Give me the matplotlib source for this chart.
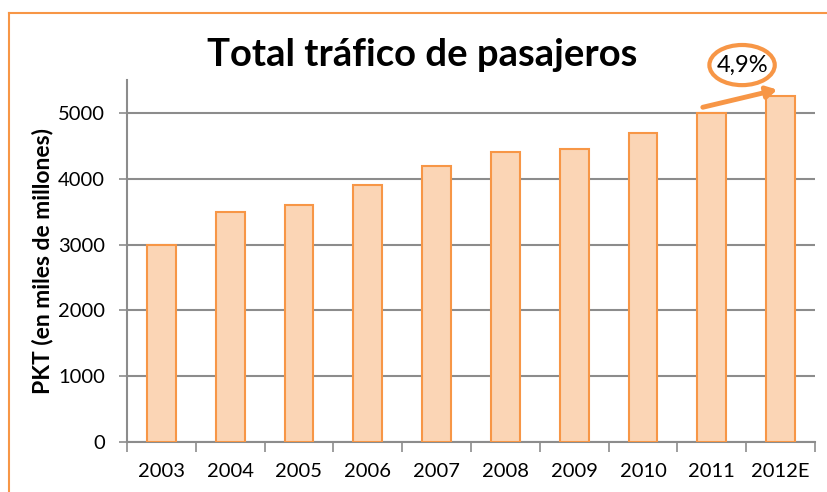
import matplotlib
matplotlib.use("Agg")
import matplotlib.pyplot as plt
import numpy as np
from matplotlib.patches import Ellipse
from matplotlib.lines import Line2D

years = ["2003", "2004", "2005", "2006", "2007", "2008", "2009", "2010", "2011", "2012E"]
pkt = [3000, 3500, 3600, 3900, 4200, 4400, 4450, 4700, 5000, 5250]
growth_label = "4,9%"

orange = "#F79646"
fill = "#FBD5B5"
grey = "#8C8C8C"

plt.rcParams['font.family'] = ['Lato', 'DejaVu Sans']

fig = plt.figure(figsize=(8.27, 4.92), dpi=100)
ax = fig.add_axes([127/827, 50/492, 688/827, 362/492])

x = np.arange(len(years))
ax.bar(x, pkt, width=0.42, color=fill, edgecolor=orange, linewidth=1.5, zorder=3)

ax.set_xlim(-0.5, len(years) - 0.5)
ax.set_ylim(0, 5500)
ax.set_yticks(np.arange(0, 5001, 1000))
ax.yaxis.grid(True, color=grey, linewidth=1.5, zorder=0)
ax.set_axisbelow(True)

ax.set_xticks(x)
ax.set_xticklabels(years, fontsize=14.5)
ax.set_xticks(np.arange(-0.5, len(years), 1), minor=True)
ax.tick_params(axis='x', which='major', length=0, pad=15)
ax.tick_params(axis='x', which='minor', length=7, width=1.2, color=grey, direction='out')
ax.tick_params(axis='y', length=6, width=1.2, color=grey, labelsize=14.5, pad=10)

for s in ['top', 'right']:
    ax.spines[s].set_visible(False)
for s in ['left', 'bottom']:
    ax.spines[s].set_color(grey)
    ax.spines[s].set_linewidth(1.5)

ax.set_ylabel("PKT (en miles de millones)", fontsize=16.5, fontweight='bold', labelpad=3)

fig.text(422/827, 1 - 55/492, "Total tráfico de pasajeros", fontsize=27.5, fontweight='bold',
         ha='center', va='center')

# growth annotation
ax.annotate("", xy=(8.99, 5364), xytext=(7.83, 5076),
            arrowprops=dict(arrowstyle='-|>,head_length=0.6,head_width=0.35', color=orange, lw=3.5),
            annotation_clip=False)
ell = Ellipse((8.44, 5727), 0.95, 610, fill=False, edgecolor=orange, linewidth=3, clip_on=False, zorder=5)
ax.add_patch(ell)
ax.text(8.44, 5727, growth_label, fontsize=17, ha='center', va='center', clip_on=False, zorder=6)

# outer frame (top and left edges visible)
fy = 1 - 13/492
fx = 9/827
fig.lines.append(Line2D([fx, 1.0], [fy, fy], transform=fig.transFigure, color=orange, linewidth=1.5))
fig.lines.append(Line2D([fx, fx], [0.0, fy], transform=fig.transFigure, color=orange, linewidth=1.5))

fig.savefig("out.png", dpi=100)
